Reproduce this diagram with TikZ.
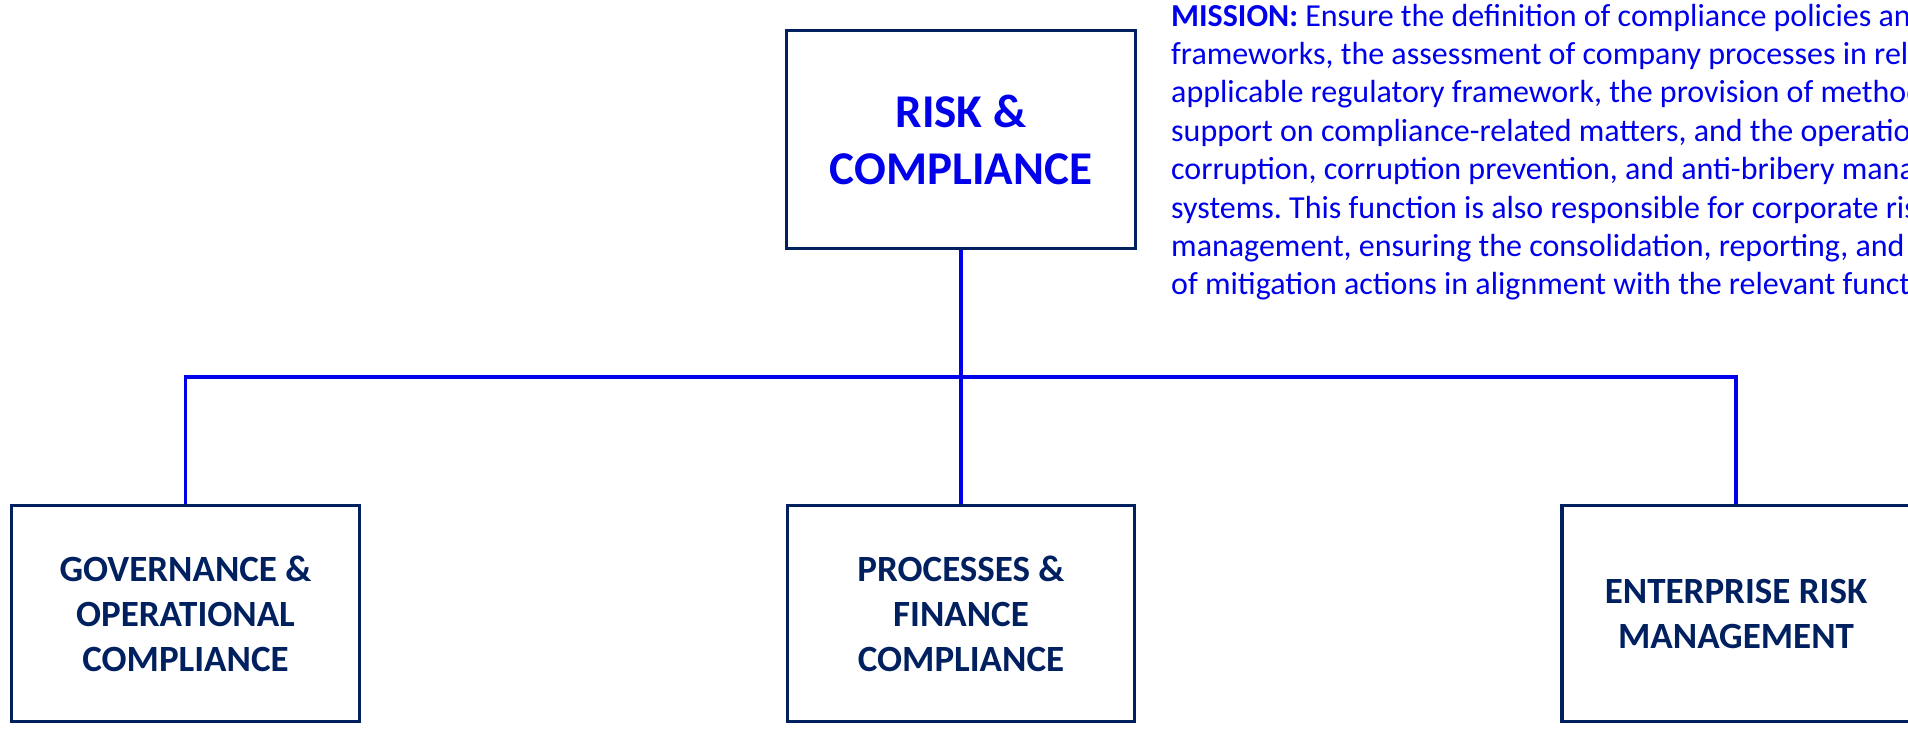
\documentclass[tikz,border=0pt]{standalone}
\usepackage{fontspec}
\setmainfont{Carlito}
\usetikzlibrary{backgrounds}
\definecolor{navy}{RGB}{0,32,96}
\definecolor{vivid}{RGB}{0,0,235}
\frenchspacing
\begin{document}
\begin{tikzpicture}[x=1pt,y=-1pt,
  box/.style={draw=navy,line width=3.3pt,fill=white,minimum width=348pt,minimum height=216pt,inner sep=0pt,align=center},
  topbox/.style={box,minimum width=349pt,minimum height=218pt,text=vivid,font=\bfseries\fontsize{47}{57}\selectfont},
  subbox/.style={box,text=navy,font=\bfseries\fontsize{37}{45}\selectfont},
  conn/.style={draw=vivid,line width=3.5pt},
  mline/.style={anchor=base west,inner sep=0pt,text=vivid,font=\fontsize{32}{38.4}\selectfont}
]
\useasboundingbox (0,0) rectangle (1908,728);
\clip (0,0) rectangle (1908,728);

\node[topbox] (rc) at (961,139.5) {RISK \&\\COMPLIANCE};
\node[subbox] (gov) at (185.5,613.5) {GOVERNANCE \&\\OPERATIONAL\\COMPLIANCE};
\node[subbox,minimum width=347pt] (pfc) at (961,613.5) {PROCESSES \&\\FINANCE\\COMPLIANCE};
\node[subbox] (erm) at (1736,613.5) {ENTERPRISE RISK\\MANAGEMENT};
\coordinate (bus) at (961,377);

\begin{scope}[on background layer]
\fill[white] (0,0) rectangle (1908,728);
\draw[conn] (rc.south) -- (pfc.north);
\draw[conn] (gov.north) |- (erm.north |- bus) -- (erm.north);
\end{scope}

\node[mline] (m1) at (1171,26) {\textbf{MISSION:} Ensure the definition of compliance policies and};
\node[mline] (m2) at (1171,64.4) {frameworks, the assessment of company processes in relation to the};
\node[mline] (m3) at (1171,102.8) {applicable regulatory framework, the provision of methodological};
\node[mline] (m4) at (1171,141.2) {support on compliance-related matters, and the operation of anti-};
\node[mline] (m5) at (1171,179.6) {corruption, corruption prevention, and anti-bribery management};
\node[mline] (m6) at (1171,218) {systems. This function is also responsible for corporate risk};
\node[mline] (m7) at (1171,256.4) {management, ensuring the consolidation, reporting, and monitoring};
\node[mline] (m8) at (1171,294.8) {of mitigation actions in alignment with the relevant functions.};
\end{tikzpicture}
\end{document}
